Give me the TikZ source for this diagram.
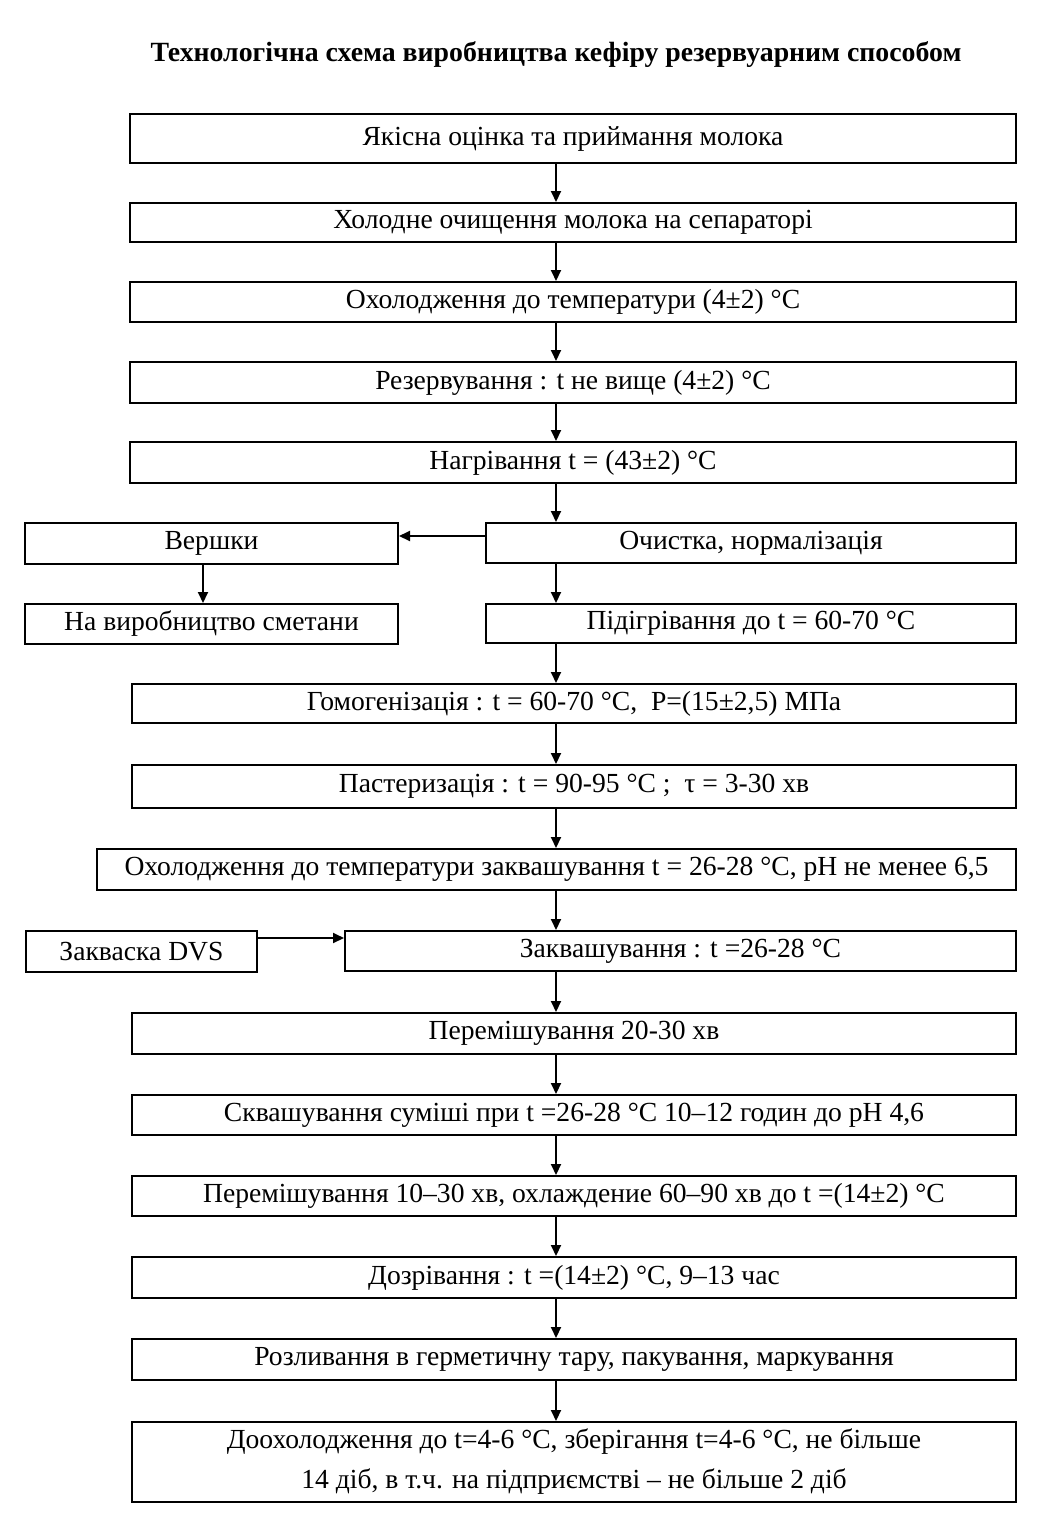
\documentclass[tikz,border=0pt]{standalone}
\usepackage{fontspec}
\setmainfont{Liberation Serif}
\usepackage{tikz}
\usetikzlibrary{arrows.meta,positioning}
\tikzstyle{etap} = [draw=black, line width=1pt, rectangle, inner sep=2pt, minimum height=20pt, font=\fontsize{13.8}{20}\selectfont]
\tikzstyle{titul} = [font=\bfseries\fontsize{13.9}{16}\selectfont]
\tikzstyle{strilka} = [draw=black, line width=1pt, -{Triangle[length=5.5pt,width=5pt]}]

\begin{document}
\begin{tikzpicture}[x=0.5pt, y=-0.5pt]
					\useasboundingbox (0,0) rectangle (1051,1520);
					\coordinate (vis) at (556,0);
					\node[titul] (nazva) at (556,55) {Технологічна схема виробництва кефіру резервуарним способом};
					% основний ланцюг
					\node[etap, minimum width=443pt, minimum height=24.5pt] (b1) at (573,138.5) {Якісна оцінка та приймання молока};
					\node[etap, minimum width=443pt, minimum height=19.5pt] (b2) at (573,222.5) {Холодне очищення молока на сепараторі};
					\node[etap, minimum width=443pt] (b3) at (573,302) {Охолодження до температури (4±2) °С};
					\node[etap, minimum width=443pt, minimum height=20.5pt] (b4) at (573,382.5) {Резервування : t не вище (4±2) °С};
					\node[etap, minimum width=443pt, minimum height=20.5pt] (b5) at (573,462.5) {Нагрівання t = (43±2) °С};
					\node[etap, minimum width=265pt] (ochyst) at (751,543) {Очистка, нормалізація};
					\node[etap, minimum width=186.5pt, minimum height=20.5pt] (vershky) at (211.5,543.5) {Вершки};
					\node[etap, minimum width=186.5pt] (smetana) at (211.5,624) {На виробництво сметани};
					\node[etap, minimum width=265pt, minimum height=19.5pt] (pidigr) at (751,623.5) {Підігрівання до t = 60-70 °С};
					\node[etap, minimum width=442pt, minimum height=19.5pt] (homog) at (574,703.5) {Гомогенізація : t = 60-70 °С,\ \ Р=(15±2,5) МПа};
					\node[etap, minimum width=442pt, minimum height=21.5pt] (paster) at (574,786.5) {Пастеризація : t = 90-95 °С ;\ \ τ = 3-30 хв};
					\node[etap, minimum width=459.5pt, minimum height=20.5pt] (okhol) at (556.5,869.5) {Охолодження до температури заквашування t = 26-28 °С, pH не менее 6,5};
					\node[etap, minimum width=115.5pt, minimum height=20.5pt] (dvs) at (141.5,951.5) {Закваска DVS};
					\node[etap, minimum width=335.5pt] (zakv) at (680.5,951) {Заквашування : t =26-28 °С};
					\node[etap, minimum width=442pt, minimum height=20.5pt] (perem1) at (574,1033.5) {Перемішування 20-30 хв};
					\node[etap, minimum width=442pt] (skvash) at (574,1115) {Сквашування суміші при t =26-28 °С 10–12 годин до рН 4,6};
					\node[etap, minimum width=442pt] (perem2) at (574,1196) {Перемішування 10–30 хв, охлаждение 60–90 хв до t =(14±2) °С};
					\node[etap, minimum width=442pt, minimum height=20.5pt] (dozr) at (574,1277.5) {Дозрівання : t =(14±2) °С, 9–13 час};
					\node[etap, minimum width=442pt, minimum height=20.5pt] (rozl) at (574,1359.5) {Розливання в герметичну тару, пакування, маркування};
					\node[etap, minimum width=442pt, minimum height=40pt, align=center] (dookh) at (574,1462) {Доохолодження до t=4-6 °С, зберігання t=4-6 °С, не більше\\14 діб, в т.ч. на підприємстві – не більше 2 діб};
					% стрілки
					\foreach \a/\b in {b1/b2, b2/b3, b3/b4, b4/b5, b5/ochyst, ochyst/pidigr, pidigr/homog, homog/paster, paster/okhol, okhol/zakv, zakv/perem1, perem1/skvash, skvash/perem2, perem2/dozr, dozr/rozl, rozl/dookh}
						\draw[strilka] (\a.south -| vis) -- (\b.north -| vis);
					\draw[strilka] ([yshift=3.5pt]ochyst.west) -- ([yshift=3.5pt]ochyst.west -| vershky.east);
					\draw[strilka] ([xshift=-4.25pt]vershky.south) -- ([xshift=-4.25pt]vershky.south |- smetana.north);
					\draw[strilka] ([yshift=6.75pt]dvs.east) -- ([yshift=6.75pt]dvs.east -| zakv.west);
					\end{tikzpicture}
\end{document}
